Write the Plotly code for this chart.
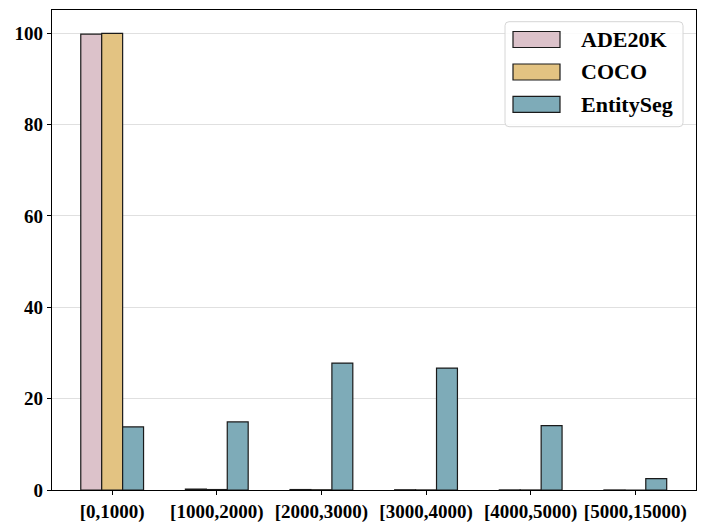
import plotly.graph_objects as go

categories = ["[0,1000)", "[1000,2000)", "[2000,3000)", "[3000,4000)", "[4000,5000)", "[5000,15000)"]
ade20k = [99.8, 0.2, 0.1, 0.05, 0.02, 0.01]
coco = [100.0, 0.1, 0.05, 0.02, 0.01, 0.0]
entityseg = [13.8, 14.9, 27.8, 26.7, 14.1, 2.5]
y_ticks = [0, 20, 40, 60, 80, 100]

series_names = ["ADE20K", "COCO", "EntitySeg"]
series_values = [ade20k, coco, entityseg]
series_colors = ["#dcc2ca", "#e3c382", "#7eabb8"]

font_family = "Liberation Serif"
edge = "#1a1a1a"

fig = go.Figure()
for name, vals, color in zip(series_names, series_values, series_colors):
    fig.add_trace(go.Bar(
        x=categories, y=vals, name=name, showlegend=False,
        marker=dict(color=color, line=dict(color=edge, width=1.2)),
    ))

# plot-area pixel geometry (for the matplotlib-style legend box)
PW, PH = 644.0, 480.0
def px(x):
    return x / PW
def py(y):
    return 1 - y / PH

shapes = []
# legend frame with rounded corners (pixel coords relative to plot area top-left)
bx0, bx1, by0, by1, r = 453, 631, 11.7, 116.7, 4
rx, ry = r / PW, r / PH
X0, X1, Y0, Y1 = px(bx0), px(bx1), py(by1), py(by0)
path = (f"M {X0+rx},{Y0} L {X1-rx},{Y0} Q {X1},{Y0} {X1},{Y0+ry} "
        f"L {X1},{Y1-ry} Q {X1},{Y1} {X1-rx},{Y1} L {X0+rx},{Y1} "
        f"Q {X0},{Y1} {X0},{Y1-ry} L {X0},{Y0+ry} Q {X0},{Y0} {X0+rx},{Y0} Z")
shapes.append(dict(type="path", xref="paper", yref="paper", path=path,
                   fillcolor="rgba(255,255,255,0.85)", line=dict(color="#d6d6d6", width=1)))
annotations = []
row_centers = [29.5, 62.0, 94.4]
for name, color, yc in zip(series_names, series_colors, row_centers):
    shapes.append(dict(type="rect", xref="paper", yref="paper",
                       x0=px(461), x1=px(508), y0=py(yc + 8), y1=py(yc - 8),
                       fillcolor=color, line=dict(color=edge, width=1.2)))
    annotations.append(dict(xref="paper", yref="paper", x=px(527), y=py(yc),
                            xanchor="left", yanchor="middle", showarrow=False,
                            text="<b>%s</b>" % name,
                            font=dict(family=font_family, size=22, color="black")))

fig.update_layout(
    width=698, height=521,
    barmode="group", bargap=0.4, bargroupgap=0,
    plot_bgcolor="white", paper_bgcolor="white",
    margin=dict(l=44, r=10, t=2, b=39, autoexpand=False),
    font=dict(family=font_family, size=19, color="black"),
    showlegend=False,
    shapes=shapes, annotations=annotations,
)
fig.update_xaxes(
    type="category", range=[-0.575, 5.58],
    showline=True, linecolor="black", linewidth=1.2, mirror=True,
    ticks="outside", ticklen=4, tickcolor="black",
    tickfont=dict(family=font_family, size=19, color="black"),
    showgrid=False,
    tickvals=categories, ticktext=["<b>%s</b>" % c for c in categories],
)
fig.update_yaxes(
    range=[0, 105.1], tickvals=y_ticks, ticktext=["<b>%d</b>" % v for v in y_ticks],
    showline=True, linecolor="black", linewidth=1.2, mirror=True,
    ticks="outside", ticklen=4, tickcolor="black",
    tickfont=dict(family=font_family, size=19, color="black"),
    showgrid=True, gridcolor="#e0e0e0", gridwidth=1, zeroline=False,
)

fig.write_html("out.html")
